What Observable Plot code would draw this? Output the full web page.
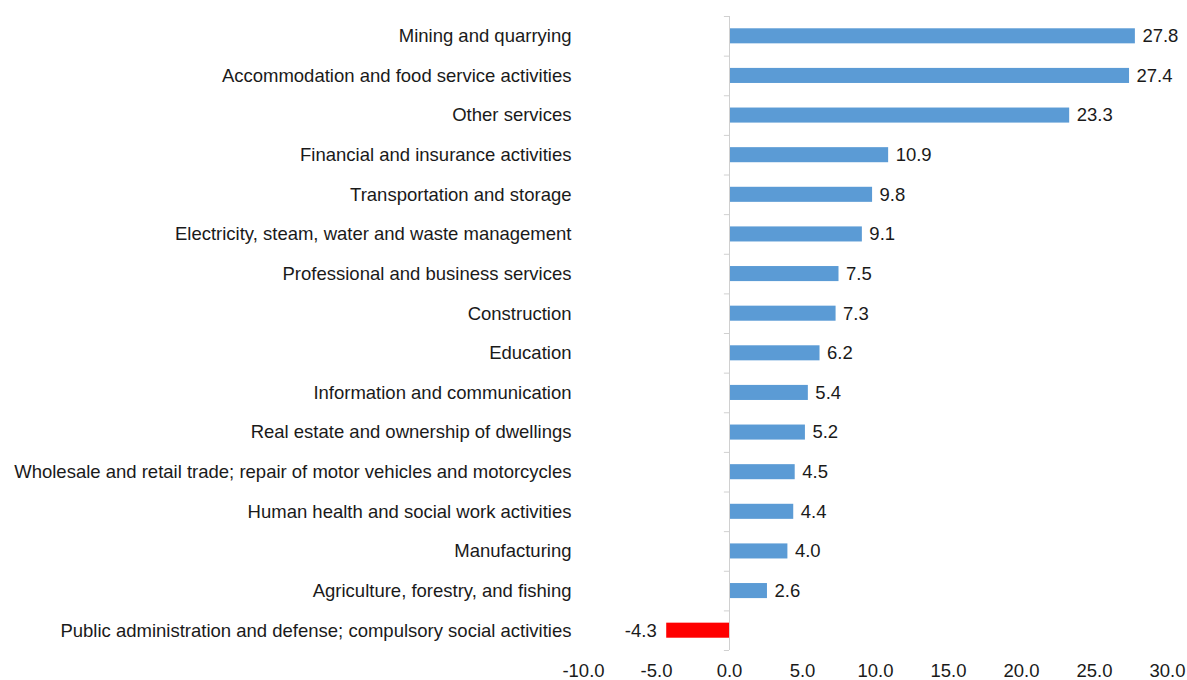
<!DOCTYPE html>
<html>
<head>
<meta charset="utf-8">
<script src="https://cdn.jsdelivr.net/npm/d3@7"></script>
<script src="https://cdn.jsdelivr.net/npm/@observablehq/plot@0.6"></script>
<style>
  body { margin: 0; background: #fff; }
  #chart svg { display: block; }
</style>
</head>
<body>
<div id="chart"></div>
<script>
const categories = [
  "Mining and quarrying",
  "Accommodation and food service activities",
  "Other services",
  "Financial and insurance activities",
  "Transportation and storage",
  "Electricity, steam, water and waste management",
  "Professional and business services",
  "Construction",
  "Education",
  "Information and communication",
  "Real estate and ownership of dwellings",
  "Wholesale and retail trade; repair of motor vehicles and motorcycles",
  "Human health and social work activities",
  "Manufacturing",
  "Agriculture, forestry, and fishing",
  "Public administration and defense; compulsory social activities"
];
const values = [27.8, 27.4, 23.3, 10.9, 9.8, 9.1, 7.5, 7.3, 6.2, 5.4, 5.2, 4.5, 4.4, 4.0, 2.6, -4.3];
const xTicks = [-10, -5, 0, 5, 10, 15, 20, 25, 30];

const data = categories.map((c, i) => ({category: c, value: values[i]}));

const W = 1187, H = 680;
const mTop = 16, mBottom = 30, mLeft = 583, mRight = 20;
const step = (H - mTop - mBottom) / categories.length;
const fmt = d3.formatLocale({decimal: ".", thousands: ",", grouping: [3], currency: ["", ""], minus: "-"}).format(".1f");
const FS = 18.5;
const ink = "#1a1a1a";

const chart = Plot.plot({
  width: W,
  height: H,
  marginTop: mTop,
  marginBottom: mBottom,
  marginLeft: mLeft,
  marginRight: mRight,
  style: {fontFamily: "'Liberation Sans', Arial, sans-serif", fontSize: FS + "px", color: ink, background: "#fff"},
  x: {domain: [-10, 30], ticks: xTicks, tickFormat: fmt, label: null},
  y: {domain: categories, paddingInner: 0.62, paddingOuter: 0.31, round: false, label: null},
  marks: [
    Plot.axisX({ticks: xTicks, tickFormat: fmt, tickSize: 0, tickPadding: 13, fontSize: FS, label: null}),
    Plot.axisY({tickSize: 0, tickPadding: 12, fontSize: FS, label: null}),
    Plot.barX(data, {x: "value", y: "category", fill: d => d.value < 0 ? "#FF0000" : "#5B9BD5"}),
    Plot.ruleX([0], {stroke: "#D0D0D0", strokeWidth: 1}),
    Plot.ruleY(categories, {y: d => d, x1: -0.35, x2: 0, dy: step / 2, stroke: "#D0D0D0"}),
    Plot.ruleY([categories[0]], {y: d => d, x1: -0.35, x2: 0, dy: -step / 2, stroke: "#D0D0D0"}),
    Plot.text(data, {
      x: "value", y: "category", text: d => fmt(d.value),
      textAnchor: "start",
      fontSize: FS, fill: ink,
      filter: d => d.value >= 0, dx: 7
    }),
    Plot.text(data, {
      x: "value", y: "category", text: d => fmt(d.value),
      textAnchor: "end",
      fontSize: FS, fill: ink,
      filter: d => d.value < 0, dx: -10
    })
  ]
});
document.getElementById("chart").appendChild(chart);
</script>
</body>
</html>
